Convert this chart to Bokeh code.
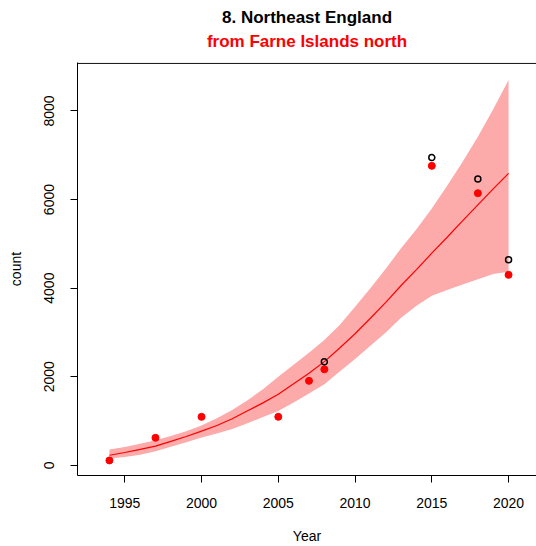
from bokeh.plotting import figure
from bokeh.models import Range1d, FixedTicker, Title, Span, ColumnDataSource
from bokeh.embed import file_html
from bokeh.resources import INLINE

# fitted trend and confidence band
fit_years = list(range(1994, 2021))
fit_count = [227, 290, 360, 432, 540, 650, 773, 900, 1050, 1230, 1410, 1606, 1840,
             2080, 2341, 2650, 2970, 3320, 3680, 4060, 4420, 4790, 5150, 5520,
             5880, 6240, 6590]
fit_upper = [356, 415, 485, 565, 660, 770, 900, 1060, 1250, 1470, 1720, 2000, 2270,
             2540, 2830, 3170, 3580, 4000, 4440, 4900, 5330, 5800, 6310, 6850,
             7420, 8040, 8700]
fit_lower = [152, 190, 240, 320, 420, 520, 630, 720, 820, 950, 1090, 1227, 1420,
             1620, 1833, 2120, 2400, 2700, 3000, 3330, 3600, 3830, 3960, 4080,
             4200, 4318, 4371]

# observed counts (filled red) and alternative counts (open black)
obs_years = [1994, 1997, 2000, 2005, 2007, 2008, 2015, 2018, 2020]
obs_counts = [110, 621, 1095, 1095, 1907, 2167, 6761, 6144, 4300]
alt_years = [2008, 2015, 2018, 2020]
alt_counts = [2336, 6948, 6467, 4639]

x_ticks = [1995, 2000, 2005, 2010, 2015, 2020]
y_ticks = [0, 2000, 4000, 6000, 8000]

FONT = "Liberation Sans"
Y_TOP = 9095

p = figure(width=536, height=546, output_backend="svg", toolbar_location=None,
           x_range=Range1d(1991.92, 2021.82), y_range=Range1d(-230, Y_TOP),
           min_border_left=77, min_border_right=0, min_border_top=62,
           min_border_bottom=71)
p.outline_line_color = None
p.grid.grid_line_color = None
p.background_fill_color = "white"

band = ColumnDataSource(dict(x=fit_years, lo=fit_lower, hi=fit_upper, y=fit_count))
p.varea(x="x", y1="lo", y2="hi", source=band, fill_color="#FCAAAA", fill_alpha=1.0)
p.line(x="x", y="y", source=band, line_color="red", line_width=1.2)
p.scatter(obs_years, obs_counts, size=7, marker="circle", fill_color="red",
          line_color="red")
p.scatter(alt_years, alt_counts, size=6, marker="circle", fill_color=None,
          line_color="black", line_width=1.5)

p.add_layout(Span(location=Y_TOP - 20, dimension="width", line_color="black",
                  line_width=1))

for ax in (p.xaxis[0], p.yaxis[0]):
    ax.axis_line_color = "black"
    ax.axis_line_width = 1
    ax.major_tick_out = 7
    ax.major_tick_in = 0
    ax.minor_tick_line_color = None
    ax.major_label_text_font = FONT
    ax.major_label_text_font_size = "14px"
    ax.major_label_text_color = "black"
    ax.axis_label_text_font = FONT
    ax.axis_label_text_font_size = "14px"
    ax.axis_label_text_font_style = "normal"
    ax.axis_label_text_color = "black"

p.xaxis.ticker = FixedTicker(ticks=x_ticks)
p.yaxis.ticker = FixedTicker(ticks=y_ticks)
p.xaxis.axis_label = "Year"
p.yaxis.axis_label = "count"
p.yaxis.major_label_orientation = "vertical"
p.xaxis.major_label_standoff = 15
p.xaxis.axis_label_standoff = 17
p.yaxis.major_label_standoff = 16
p.yaxis.axis_label_standoff = 18

p.add_layout(Title(text="from Farne Islands north", text_color="red", align="center",
                   text_font=FONT, text_font_size="17px", text_font_style="bold",
                   standoff=23), "above")
p.add_layout(Title(text="8. Northeast England", text_color="black", align="center",
                   text_font=FONT, text_font_size="17px", text_font_style="bold",
                   standoff=-17), "above")

open("out.html", "w").write(file_html(p, INLINE))
